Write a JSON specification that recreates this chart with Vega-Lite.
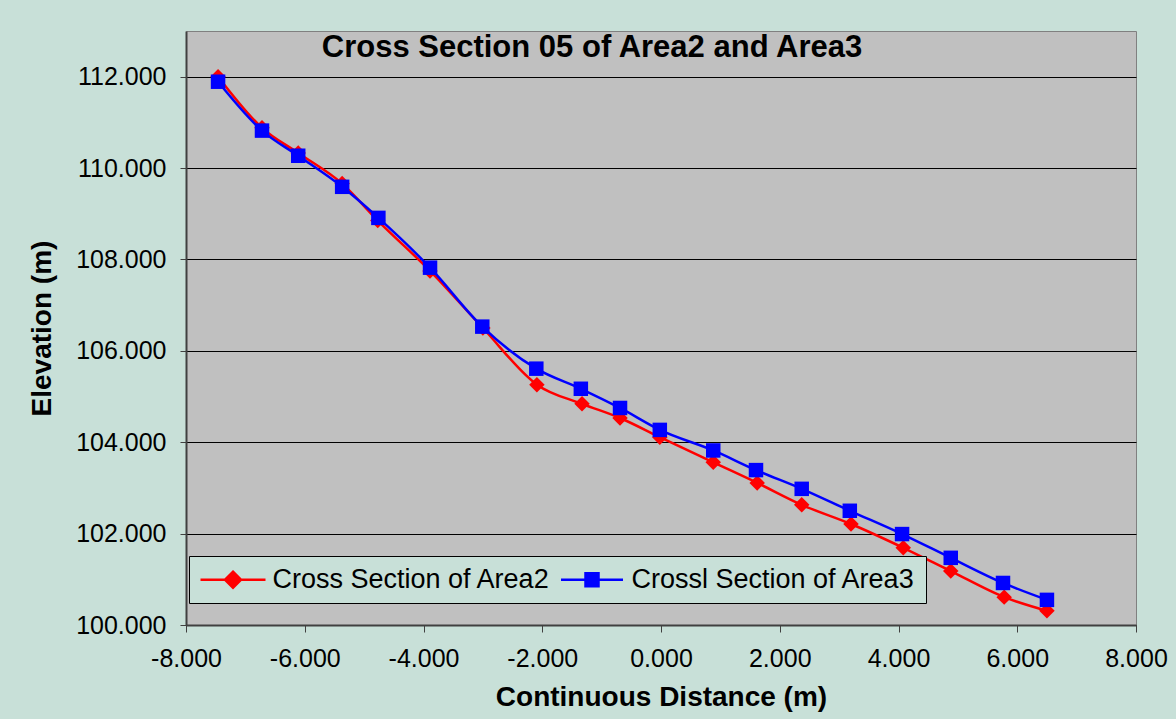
{
  "$schema": "https://vega.github.io/schema/vega-lite/v6.json",
  "width": 950,
  "height": 594,
  "autosize": {"type": "none"},
  "padding": {"left": 186, "top": 31, "right": 40, "bottom": 94},
  "background": "#C8E0D8",
  "title": {
    "text": "Cross Section 05 of Area2 and Area3",
    "anchor": "middle",
    "dx": -69,
    "offset": -57,
    "baseline": "alphabetic",
    "fontSize": 31,
    "fontWeight": "bold",
    "font": "Liberation Sans",
    "color": "#000000"
  },
  "data": {
    "values": [
      {"series": "Cross Section of Area2", "distance": -7.46, "elevation": 112.00},
      {"series": "Cross Section of Area2", "distance": -6.72, "elevation": 110.88},
      {"series": "Cross Section of Area2", "distance": -6.11, "elevation": 110.33},
      {"series": "Cross Section of Area2", "distance": -5.37, "elevation": 109.66},
      {"series": "Cross Section of Area2", "distance": -4.77, "elevation": 108.85},
      {"series": "Cross Section of Area2", "distance": -3.89, "elevation": 107.75},
      {"series": "Cross Section of Area2", "distance": -3.00, "elevation": 106.50},
      {"series": "Cross Section of Area2", "distance": -2.09, "elevation": 105.26},
      {"series": "Cross Section of Area2", "distance": -1.33, "elevation": 104.84},
      {"series": "Cross Section of Area2", "distance": -0.69, "elevation": 104.53},
      {"series": "Cross Section of Area2", "distance": -0.02, "elevation": 104.11},
      {"series": "Cross Section of Area2", "distance": 0.88, "elevation": 103.56},
      {"series": "Cross Section of Area2", "distance": 1.62, "elevation": 103.11},
      {"series": "Cross Section of Area2", "distance": 2.37, "elevation": 102.63},
      {"series": "Cross Section of Area2", "distance": 3.20, "elevation": 102.21},
      {"series": "Cross Section of Area2", "distance": 4.08, "elevation": 101.69},
      {"series": "Cross Section of Area2", "distance": 4.88, "elevation": 101.18},
      {"series": "Cross Section of Area2", "distance": 5.78, "elevation": 100.61},
      {"series": "Cross Section of Area2", "distance": 6.50, "elevation": 100.31},
      {"series": "Crossl Section of Area3", "distance": -7.46, "elevation": 111.89},
      {"series": "Crossl Section of Area3", "distance": -6.72, "elevation": 110.82},
      {"series": "Crossl Section of Area3", "distance": -6.11, "elevation": 110.27},
      {"series": "Crossl Section of Area3", "distance": -5.37, "elevation": 109.59},
      {"series": "Crossl Section of Area3", "distance": -4.76, "elevation": 108.91},
      {"series": "Crossl Section of Area3", "distance": -3.89, "elevation": 107.82},
      {"series": "Crossl Section of Area3", "distance": -3.01, "elevation": 106.53},
      {"series": "Crossl Section of Area3", "distance": -2.10, "elevation": 105.61},
      {"series": "Crossl Section of Area3", "distance": -1.35, "elevation": 105.17},
      {"series": "Crossl Section of Area3", "distance": -0.69, "elevation": 104.75},
      {"series": "Crossl Section of Area3", "distance": -0.02, "elevation": 104.27},
      {"series": "Crossl Section of Area3", "distance": 0.88, "elevation": 103.82},
      {"series": "Crossl Section of Area3", "distance": 1.60, "elevation": 103.39},
      {"series": "Crossl Section of Area3", "distance": 2.37, "elevation": 102.98},
      {"series": "Crossl Section of Area3", "distance": 3.18, "elevation": 102.50},
      {"series": "Crossl Section of Area3", "distance": 4.06, "elevation": 101.99},
      {"series": "Crossl Section of Area3", "distance": 4.88, "elevation": 101.47},
      {"series": "Crossl Section of Area3", "distance": 5.76, "elevation": 100.92},
      {"series": "Crossl Section of Area3", "distance": 6.50, "elevation": 100.55}
    ]
  },
  "encoding": {
    "x": {
      "field": "distance",
      "type": "quantitative",
      "scale": {"domain": [-8, 8], "nice": false, "zero": false},
      "axis": {
        "title": "Continuous Distance (m)",
        "values": [-8, -6, -4, -2, 0, 2, 4, 6, 8],
        "format": ".3f",
        "labelExpr": "replace(datum.label, '\u2212', '-')",
        "labelFlush": false,
        "labelOverlap": false,
        "grid": false,
        "tickSize": 7,
        "labelPadding": 14,
        "titleY": 80,
        "titleBaseline": "alphabetic"
      }
    },
    "y": {
      "field": "elevation",
      "type": "quantitative",
      "scale": {"domain": [100, 113], "nice": false, "zero": false},
      "axis": {
        "title": "Elevation (m)",
        "values": [100, 102, 104, 106, 108, 110, 112],
        "format": ".3f",
        "labelFlush": false,
        "labelOverlap": false,
        "grid": true,
        "gridColor": "#000000",
        "gridWidth": 1,
        "gridOpacity": 1,
        "tickSize": 6,
        "labelPadding": 14,
        "titleX": -136,
        "titleY": 297,
        "titleAngle": 270,
        "titleBaseline": "alphabetic"
      }
    },
    "color": {
      "field": "series",
      "type": "nominal",
      "scale": {
        "domain": ["Cross Section of Area2", "Crossl Section of Area3"],
        "range": ["#FF0000", "#0000FF"]
      },
      "legend": {
        "title": null,
        "orient": "none",
        "direction": "horizontal",
        "legendX": 3,
        "legendY": 525,
        "padding": 10,
        "fillColor": "#C8E0D8",
        "strokeColor": "#000000",
        "symbolSize": 400,
        "symbolOffset": 20.5,
        "labelOffset": 26,
        "columnPadding": 5,
        "labelFontSize": 27,
        "labelFont": "Liberation Sans",
        "labelColor": "#000000",
        "labelLimit": 500,
        "encode": {
          "symbols": {
            "update": {
              "shape": {"signal": "datum.value == 'Cross Section of Area2' ? 'M-3.25,0L3.25,0M0,-0.8L0.8,0L0,0.8L-0.8,0Z' : 'M-3.1,0L3.1,0M-0.65,-0.65L0.65,-0.65L0.65,0.65L-0.65,0.65Z'"},
              "fill": {"signal": "datum.value == 'Cross Section of Area2' ? '#FF0000' : '#0000FF'"},
              "stroke": {"signal": "datum.value == 'Cross Section of Area2' ? '#FF0000' : '#0000FF'"},
              "strokeWidth": {"value": 2.5},
              "size": {"value": 400},
              "opacity": {"value": 1},
              "fillOpacity": {"value": 1},
              "strokeOpacity": {"value": 1}
            }
          }
        }
      }
    }
  },
  "layer": [
    {
      "mark": {"type": "line", "strokeWidth": 2.5, "interpolate": "monotone"}
    },
    {
      "transform": [{"filter": "datum.series == 'Cross Section of Area2'"}],
      "mark": {"type": "point", "shape": "diamond", "filled": true, "size": 240, "opacity": 1}
    },
    {
      "transform": [{"filter": "datum.series == 'Crossl Section of Area3'"}],
      "mark": {"type": "point", "shape": "square", "filled": true, "size": 210, "opacity": 1}
    }
  ],
  "config": {
    "font": "Liberation Sans",
    "view": {"fill": "#C0C0C0", "stroke": "#808080", "strokeWidth": 1},
    "axis": {
      "labelFont": "Liberation Sans",
      "labelFontSize": 25,
      "labelColor": "#000000",
      "titleFont": "Liberation Sans",
      "titleFontSize": 28,
      "titleFontWeight": "bold",
      "titleColor": "#000000",
      "domainColor": "#404040",
      "domainWidth": 2,
      "tickColor": "#404040",
      "tickWidth": 1
    }
  }
}
